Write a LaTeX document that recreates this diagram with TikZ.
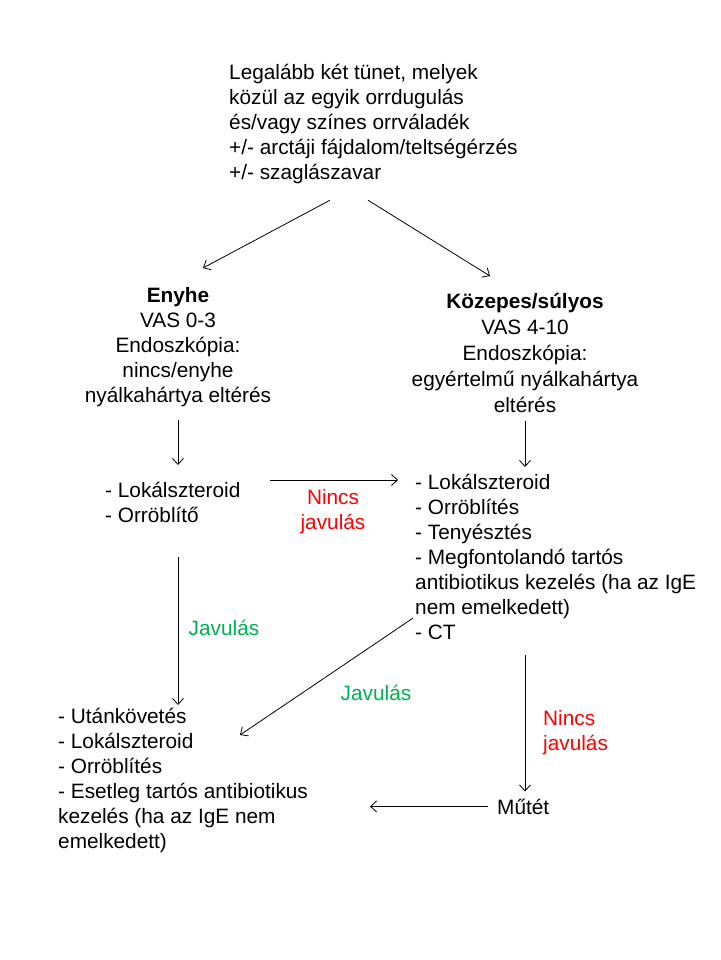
\documentclass[tikz,border=0pt]{standalone}
\usepackage{fontspec}
\setmainfont{Liberation Sans}
\usepackage{tikz}
\usetikzlibrary{arrows.meta, calc}
\definecolor{dxRed}{HTML}{FF0000}
\definecolor{dxGreen}{HTML}{00B050}
\tikzset{
  dxtext/.style={inner sep=0pt, font=\fontsize{20.8}{25}\selectfont, align=left},
  dxcenter/.style={dxtext, align=center},
  dxno/.style={dxtext, text=dxRed},
  dxyes/.style={dxtext, text=dxGreen},
  dxflow/.style={-{Straight Barb[length=6pt, width=11pt]}, line width=0.8pt, color=black},
}

\begin{document}
\begin{tikzpicture}[x=1pt, y=-1pt]
  \path[use as bounding box] (0,0) rectangle (720,960);
  \node[dxtext, anchor=north west] (tunet) at (229,62)
    {\strut Legalább két tünet, melyek\\közül az egyik orrdugulás\\és/vagy színes orrváladék\\+/- arctáji fájdalom/teltségérzés\\+/- szaglászavar};
  \node[dxcenter, anchor=north] (enyhe) at (178,285)
    {\strut\textbf{Enyhe}\\VAS 0-3\\Endoszkópia:\\nincs/enyhe\\nyálkahártya eltérés};
  \node[dxcenter, anchor=north, font=\fontsize{20.8}{26}\selectfont] (kozepes) at (525,290)
    {\strut\textbf{Közepes/súlyos}\\VAS 4-10\\Endoszkópia:\\egyértelmű nyálkahártya\\eltérés};
  \node[dxtext, anchor=north west] (enyhekez) at (105,480) {\strut - Lokálszteroid\\- Orröblítő};
  \node[dxtext, anchor=north west] (sulyoskez) at (415,472)
    {\strut - Lokálszteroid\\- Orröblítés\\- Tenyésztés\\- Megfontolandó tartós\\antibiotikus kezelés (ha az IgE\\nem emelkedett)\\- CT};
  \node[dxtext, anchor=north west] (kovetes) at (58,706)
    {\strut - Utánkövetés\\- Lokálszteroid\\- Orröblítés\\- Esetleg tartós antibiotikus\\kezelés (ha az IgE nem\\emelkedett)};
  \node[dxtext, anchor=base west] (mutet) at (497,814) {Műtét};
  % címkék a nyilak mellett
  \node[dxno, align=center, anchor=north] (nincsA) at (333,487) {\strut Nincs\\javulás};
  \node[dxyes, anchor=base] (javulA) at (224,635) {Javulás};
  \node[dxyes, anchor=base] (javulB) at (376,700) {Javulás};
  \node[dxno, anchor=north west] (nincsB) at (543,708) {\strut Nincs\\javulás};

  \draw[dxflow] ([xshift=101pt, yshift=-16pt]tunet.south west) -- ([xshift=25pt, yshift=17pt]enyhe.north);
  \draw[dxflow] ([xshift=139pt, yshift=-16pt]tunet.south west) -- ([xshift=-35pt, yshift=14pt]kozepes.north);
  \draw[dxflow] ([yshift=-13pt]enyhe.south) -- ([yshift=15pt]enyhe.south |- enyhekez.north);
  \draw[dxflow] ([yshift=-8pt]kozepes.south) -- ([yshift=5pt]kozepes.south |- sulyoskez.north);
  \draw[dxflow] ([xshift=165pt, yshift=0pt]enyhekez.north west) -- ([xshift=-17pt, yshift=-8pt]sulyoskez.north west);
  \draw[dxflow] ([yshift=-34pt]enyhe.south |- enyhekez.south) -- ([yshift=1pt]enyhe.south |- kovetes.north);
  \draw[dxflow] ([xshift=-2pt, yshift=22pt]sulyoskez.south west) -- ([xshift=182pt, yshift=-29pt]kovetes.north west);
  \draw[dxflow] ([yshift=-15pt]kozepes.south |- sulyoskez.south) -- ([yshift=7pt]kozepes.south |- mutet.north);
  \draw[dxflow] ([xshift=-9pt]mutet.west) -- ([xshift=312pt]mutet.west -| kovetes.north west);
\end{tikzpicture}
\end{document}
